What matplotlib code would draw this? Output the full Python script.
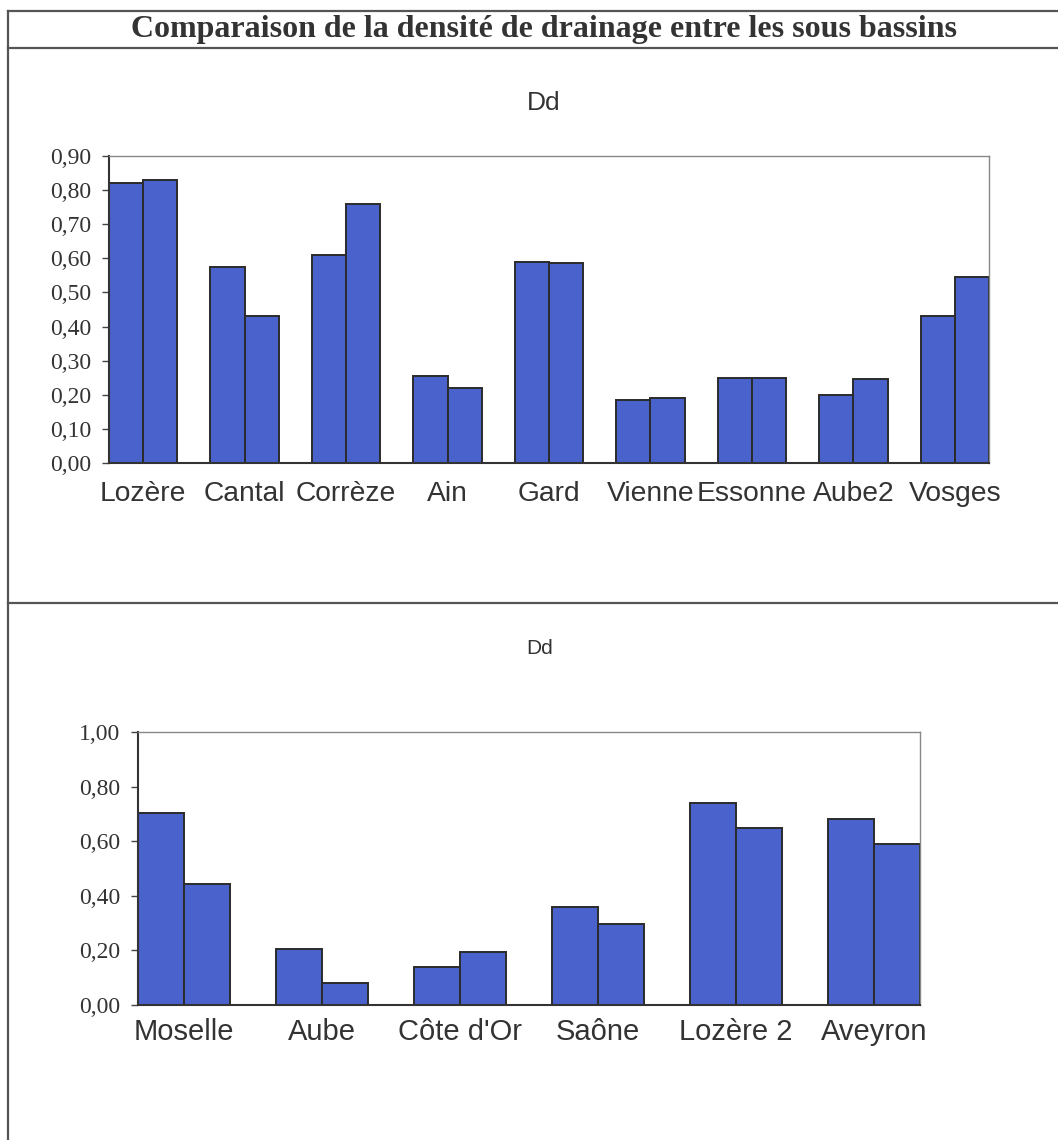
import matplotlib
matplotlib.use("Agg")
import matplotlib.pyplot as plt
from matplotlib.lines import Line2D
import numpy as np

# Drainage density (Dd) per sub-basin, two measurements each
top_names = ["Lozère", "Cantal", "Corrèze", "Ain", "Gard", "Vienne",
             "Essonne", "Aube2", "Vosges"]
top_dd_a = [0.82, 0.575, 0.61, 0.255, 0.59, 0.185, 0.25, 0.20, 0.43]
top_dd_b = [0.83, 0.43, 0.76, 0.22, 0.585, 0.19, 0.25, 0.245, 0.545]
top_ticks = [0.0, 0.1, 0.2, 0.3, 0.4, 0.5, 0.6, 0.7, 0.8, 0.9]

bot_names = ["Moselle", "Aube", "Côte d'Or", "Saône", "Lozère 2", "Aveyron"]
bot_dd_a = [0.705, 0.205, 0.14, 0.36, 0.74, 0.68]
bot_dd_b = [0.445, 0.08, 0.195, 0.295, 0.65, 0.59]
bot_ticks = [0.0, 0.2, 0.4, 0.6, 0.8, 1.0]

BAR = "#4a62cc"
EDGE = "#2b2b2b"
TXT = "#333333"
FRAME = "#555555"

W, H = 1058, 1140
fig = plt.figure(figsize=(W / 100, H / 100), dpi=100)
fig.patch.set_facecolor("white")


def px_rect(left, top, right, bottom):
    return [left / W, 1 - bottom / H, (right - left) / W, (bottom - top) / H]


# Table frame around the charts
for y in (11, 48, 603):
    fig.add_artist(Line2D([8 / W, 1.0], [1 - y / H, 1 - y / H],
                          color=FRAME, lw=1.6, transform=fig.transFigure))
fig.add_artist(Line2D([8 / W, 8 / W], [1 - 11 / H, 0.0],
                      color=FRAME, lw=1.6, transform=fig.transFigure))

fig.text(544 / W, 1 - 30 / H,
         "Comparaison de la densité de drainage entre les sous bassins",
         ha="center", va="center", fontsize=23, fontweight="bold",
         family="Liberation Serif", color=TXT)


def grouped_bars(ax, names, a, b, ticks, ymax, label_size, label_pad):
    x = np.arange(len(names))
    w = 0.335
    ax.bar(x - w / 2, a, width=w, color=BAR, edgecolor=EDGE, linewidth=1.4)
    ax.bar(x + w / 2, b, width=w, color=BAR, edgecolor=EDGE, linewidth=1.4)
    ax.set_xlim(-w, len(names) - 1 + w)
    ax.set_ylim(0, ymax)
    ax.set_xticks(x)
    ax.set_xticklabels(names, fontsize=label_size, family="Liberation Sans",
                       color=TXT)
    ax.set_yticks(ticks)
    ax.set_yticklabels([f"{t:.2f}".replace(".", ",") for t in ticks],
                       fontsize=17, family="Liberation Serif", color=TXT)
    ax.tick_params(axis="x", length=0, pad=label_pad)
    ax.tick_params(axis="y", length=5, width=1, color="#444444", pad=7.5)
    for side in ("left", "bottom"):
        ax.spines[side].set_color("#333333")
        ax.spines[side].set_linewidth(1.5)
    for side in ("top", "right"):
        ax.spines[side].set_color("#888888")
        ax.spines[side].set_linewidth(1.0)


ax1 = fig.add_axes(px_rect(109, 156, 989, 463))
grouped_bars(ax1, top_names, top_dd_a, top_dd_b, top_ticks, 0.9, 20.3, 13)
fig.text(544 / W, 1 - 103 / H, "Dd", ha="center", va="center",
         fontsize=19, family="Liberation Sans", color=TXT)

ax2 = fig.add_axes(px_rect(138, 732, 920, 1005))
grouped_bars(ax2, bot_names, bot_dd_a, bot_dd_b, bot_ticks, 1.0, 21, 9)
fig.text(540 / W, 1 - 648 / H, "Dd", ha="center", va="center",
         fontsize=15, family="Liberation Sans", color=TXT)

fig.savefig("out.png", dpi=100)
